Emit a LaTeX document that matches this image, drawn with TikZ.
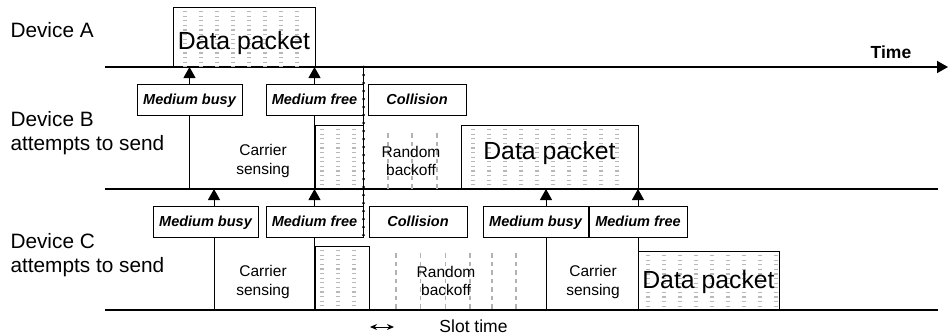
\documentclass[tikz,border=0pt]{standalone}
\usepackage{fontspec}
\setmainfont{Liberation Sans}
\usetikzlibrary{arrows.meta,positioning}

\begin{document}
\begin{tikzpicture}
    [ x=1pt, y=-1pt, line width=1pt,
      >={Triangle[length=11pt,width=12pt]},
      timeline/.style={line width=1.7pt},
      timelabel/.style={font=\fontsize{17.5}{20}\selectfont\bfseries, inner sep=0pt},
      devlabel/.style={align=left, inner sep=0pt, font=\fontsize{20.8}{23.5}\selectfont},
      flagbox/.style={draw, inner sep=0pt, minimum height=31pt, text height=10.5pt, text depth=0pt,
                      font=\fontsize{14.5}{16}\selectfont\bfseries\itshape},
      packet/.style={draw, inner sep=0pt, font=\fontsize{24.8}{26}\selectfont},
      phase/.style={align=center, inner sep=0pt, font=\fontsize{15.5}{18.5}\selectfont},
      slotlabel/.style={inner sep=0pt, font=\fontsize{17.5}{20}\selectfont},
      fillmark/.style={black!28, line width=4pt, dash pattern=on 1.2pt off 3.4pt},
      slotmark/.style={black!30, line width=1.2pt, dash pattern=on 4.5pt off 4pt},
      fillcols/.style 2 args={path picture={
          \foreach \k in {1,...,#2}
              \draw[fillmark] ([xshift=#1pt+\k*16pt-16pt, yshift=-4pt]path picture bounding box.north west)
                  -- ([xshift=#1pt+\k*16pt-16pt]path picture bounding box.south west);
      }},
    ]
    \useasboundingbox (0,0) rectangle (948,335);

    % time axis and the lines of devices B and C
    \coordinate (tA) at (105,67);
    \coordinate (tEnd) at (948,67);
    \coordinate (bA) at (105,189);
    \coordinate (bEnd) at (938,189);
    \coordinate (cA) at (105,310);
    \coordinate (cEnd) at (938,310);
    \draw[timeline,->] (tA) -- (tEnd);
    \draw[timeline] (bA) -- (bEnd);
    \draw[timeline] (cA) -- (cEnd);
    \node[timelabel, anchor=base] (time) at (891,58) {Time};

    \node[devlabel, anchor=base west] (devA) at (10,37) {Device A};
    \node[devlabel, anchor=base west] (devB) at (10,150) {Device B\\attempts to send};
    \node[devlabel, anchor=base west] (devC) at (10,272) {Device C\\attempts to send};

    % device A
    \node[packet, minimum width=142pt, minimum height=60pt, fillcols={12}{8},
          text height=24pt, text depth=0pt] (pktA) at (244,37) {Data packet};

    % device B
    \node[flagbox, minimum width=105pt] (busyB) at (189.5,99.5) {Medium busy};
    \node[flagbox, minimum width=97pt] (freeB) at (314.5,99.5) {Medium free};
    \node[flagbox, minimum width=98pt] (collB) at (417,99.5) {Collision};
    \draw[->] (busyB.north) -- (busyB.north |- tA);
    \draw[->] (freeB.north) -- (freeB.north |- tA);
    \draw (busyB.south) -- (busyB.south |- bA);
    \draw (freeB.south) -- (freeB.south |- bA);

    \node[phase] (senseB) at (263,161) {Carrier\\sensing};
    \node[packet, minimum width=48pt, minimum height=64pt, fillcols={7}{3}] (hatchB) at (339,157) {};
    \foreach \x in {388,412,437}
        \draw[slotmark] (\x,133) -- (\x,189);
    \node[phase] (backB) at (411,161) {Random\\backoff};
    \node[packet, minimum width=177pt, minimum height=64pt, fillcols={12}{10},
          text height=17pt, text depth=13pt] (pktB) at (549.5,157) {Data packet};

    % device C
    \node[flagbox, minimum width=105pt] (busyC) at (205.5,221.5) {Medium busy};
    \node[flagbox, minimum width=97pt] (freeC) at (314.5,221.5) {Medium free};
    \node[flagbox, minimum width=98pt] (collC) at (418,221.5) {Collision};
    \node[flagbox, minimum width=105pt] (busyC') at (535.5,221.5) {Medium busy};
    \node[flagbox, minimum width=98pt] (freeC') at (638,221.5) {Medium free};
    \draw[->] ([xshift=8.5pt]busyC.north) -- ([xshift=8.5pt]busyC.north |- bA);
    \draw[->] (freeC.north) -- (freeC.north |- bA);
    \draw[->] ([xshift=10.5pt]busyC'.north) -- ([xshift=10.5pt]busyC'.north |- bA);
    \draw[->] (freeC'.north) -- (freeC'.north |- bA);
    \draw ([xshift=8.5pt]busyC.south) -- ([xshift=8.5pt]busyC.south |- cA);
    \draw (freeC.south) -- (freeC.south |- cA);
    \draw ([xshift=10.5pt]busyC'.south) -- ([xshift=10.5pt]busyC'.south |- cA);
    \draw (freeC'.south) -- (freeC'.south |- cA);

    \node[phase] (senseC) at (263,282) {Carrier\\sensing};
    \node[packet, minimum width=54pt, minimum height=64pt, fillcols={7}{3}] (hatchC) at (342,278) {};
    \foreach \x in {396,420.5,445.5,470,492,516}
        \draw[slotmark] (\x,253) -- (\x,310);
    \node[phase] (backC) at (446,281) {Random\\backoff};
    \node[phase] (senseC') at (593,282) {Carrier\\sensing};
    \node[packet, minimum width=141pt, minimum height=59pt, fillcols={10}{9},
          text height=17pt, text depth=1.5pt] (pktC) at (708.5,280.5) {Data packet};

    % collision instant
    \coordinate (collTop) at (freeB.east |- tA);
    \coordinate (collBot) at (freeC.south east);
    \draw[line width=.8pt] (collTop) -- (collBot);
    \draw[line width=3pt, line cap=round, dash pattern=on 0pt off 8pt] (collTop) -- (collBot);

    % slot time
    \coordinate (slotL) at (370,327);
    \coordinate (slotR) at (394,327);
    \draw[{Stealth[length=7pt,width=6pt]}-{Stealth[length=7pt,width=6pt]}] (slotL) -- (slotR);
    \node[slotlabel, anchor=base] (slot) at (473.5,332) {Slot time};
\end{tikzpicture}
\end{document}
